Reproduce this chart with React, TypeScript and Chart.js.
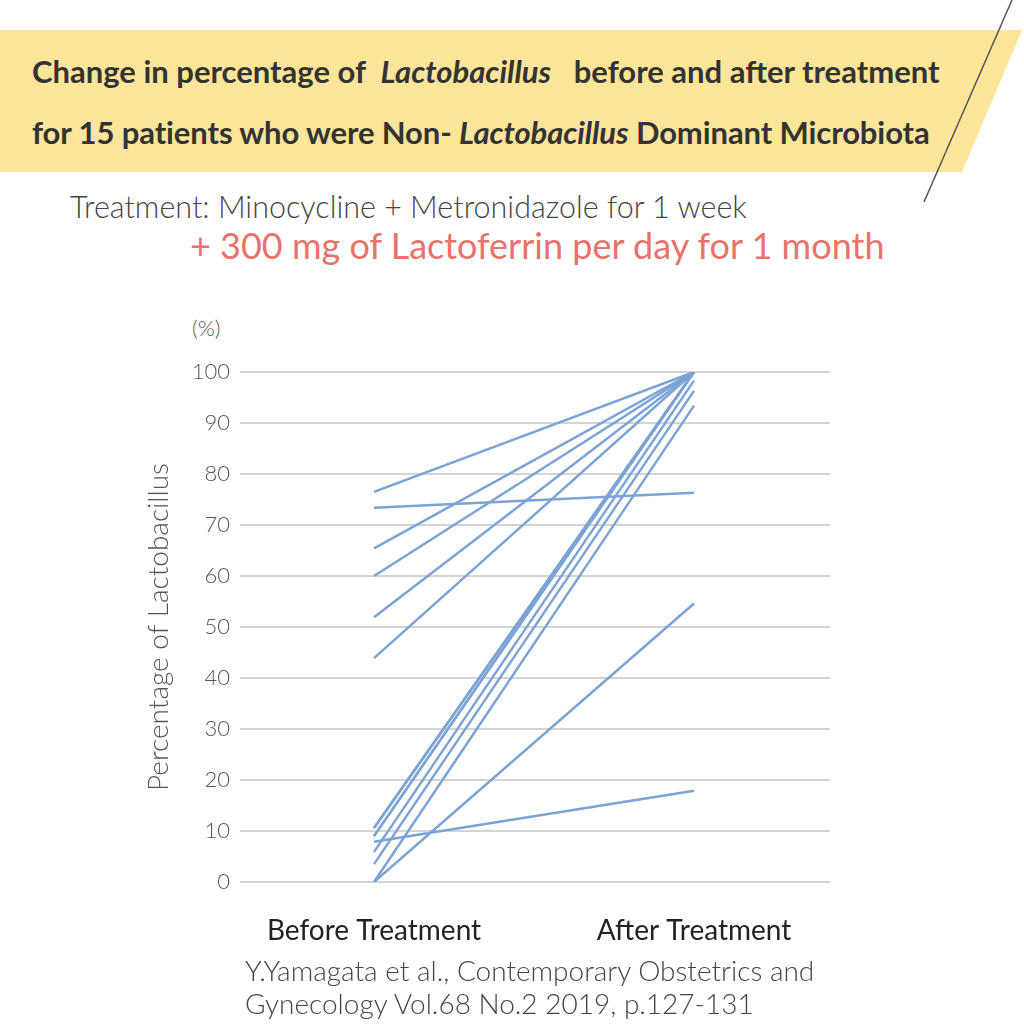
import React, { useEffect, useRef } from "react";
import { Chart, registerables } from "chart.js";

Chart.register(...registerables);

const categories = ["Before Treatment", "After Treatment"];
const beforeValues = [76.5, 73.4, 65.4, 60.0, 51.9, 43.9, 10.6, 10.6, 9.0, 9.0, 7.9, 5.9, 3.5, 0, 0];
const afterValues = [100, 76.3, 100, 100, 100, 100, 100, 100, 100, 100, 17.9, 98.3, 96.3, 93.4, 54.6];
const yTicks = [0, 10, 20, 30, 40, 50, 60, 70, 80, 90, 100];

const LINE_COLOR = "rgb(123,163,214)";
const FONT = "Lato, 'Open Sans', sans-serif";

export default function App() {
  const canvasRef = useRef<HTMLCanvasElement | null>(null);

  useEffect(() => {
    const canvas = canvasRef.current;
    if (!canvas) return;
    const datasets = beforeValues.map((b, i) => ({
      label: "Patient " + (i + 1),
      data: [
        { x: 0, y: b },
        { x: 1, y: afterValues[i] },
      ],
      borderColor: LINE_COLOR,
      borderWidth: 2.5,
      pointRadius: 0,
      fill: false,
    }));
    const chart = new Chart(canvas, {
      type: "line",
      data: { datasets },
      options: {
        animation: false,
        responsive: false,
        maintainAspectRatio: false,
        layout: { padding: { left: 0, right: 194, top: 372, bottom: 82 } },
        plugins: { legend: { display: false }, tooltip: { enabled: false } },
        scales: {
          x: {
            type: "linear",
            min: -0.41875,
            max: 1.425,
            afterBuildTicks: (scale: any) => {
              scale.ticks = categories.map((_, i) => ({ value: i }));
            },
            afterFit: (scale: any) => {
              scale.height = 60;
            },
            ticks: {
              callback: (v: any) => categories[v as number] ?? "",
              font: { family: FONT, size: 28, weight: "400" },
              color: "#222",
              padding: 32,
              autoSkip: false,
              maxRotation: 0,
            },
            grid: { display: false, drawTicks: false },
            border: { display: false },
          },
          y: {
            min: 0,
            max: 100,
            afterBuildTicks: (scale: any) => {
              scale.ticks = yTicks.map((v) => ({ value: v }));
            },
            afterFit: (scale: any) => {
              scale.width = 240;
            },
            ticks: {
              font: { family: FONT, size: 22, weight: "300" },
              color: "#555",
              padding: 10,
            },
            grid: { color: "#d4d4d4", lineWidth: 2, drawTicks: false },
            border: { display: false },
            title: {
              display: true,
              text: "Percentage of Lactobacillus",
              font: { family: FONT, size: 28, weight: "300" },
              color: "#555",
              padding: { top: 142, bottom: 0 },
            },
          },
        },
      },
    });
    return () => chart.destroy();
  }, []);

  const abs = (s: React.CSSProperties): React.CSSProperties => ({ position: "absolute", whiteSpace: "pre", ...s });

  return (
    <div style={{ position: "absolute", left: 0, top: 0, width: 1024, height: 1024, background: "#fff", overflow: "hidden", fontFamily: FONT }}>
      <svg width={1024} height={1024} style={{ position: "absolute", left: 0, top: 0 }}>
        <polygon points="0,30 1022,30 962,172 0,172" fill="#fde599" />
        <line x1={1012} y1={0} x2={924} y2={202} stroke="#555" strokeWidth={1.5} />
      </svg>
      <div style={abs({ left: 32, top: 52, fontSize: 31, fontWeight: 700, color: "#333", lineHeight: "38px" })}>
        {"Change in percentage of  "}<i>Lactobacillus</i>{"   before and after treatment"}
      </div>
      <div style={abs({ left: 32, top: 113, fontSize: 31, fontWeight: 700, color: "#333", lineHeight: "38px", letterSpacing: "-0.1px" })}>
        {"for 15 patients who were Non- "}<i>Lactobacillus</i>{" Dominant Microbiota"}
      </div>
      <div style={abs({ left: 70, top: 187, fontSize: 30.5, fontWeight: 300, color: "#444", lineHeight: "38px" })}>
        Treatment: Minocycline + Metronidazole for 1 week
      </div>
      <div style={abs({ left: 190, top: 224, fontSize: 36, fontWeight: 400, color: "#e8736a", lineHeight: "42px" })}>
        + 300 mg of Lactoferrin per day for 1 month
      </div>
      <div style={abs({ left: 192, top: 313, fontSize: 22, fontWeight: 300, color: "#555", lineHeight: "30px" })}>(%)</div>
      <canvas ref={canvasRef} width={1024} height={1024} style={{ position: "absolute", left: 0, top: 0, width: 1024, height: 1024 }} />
      <div style={abs({ left: 245, top: 954, fontSize: 28, fontWeight: 300, color: "#444", lineHeight: "33px" })}>
        {"Y.Yamagata et al., Contemporary Obstetrics and\nGynecology Vol.68 No.2 2019, p.127-131"}
      </div>
    </div>
  );
}
